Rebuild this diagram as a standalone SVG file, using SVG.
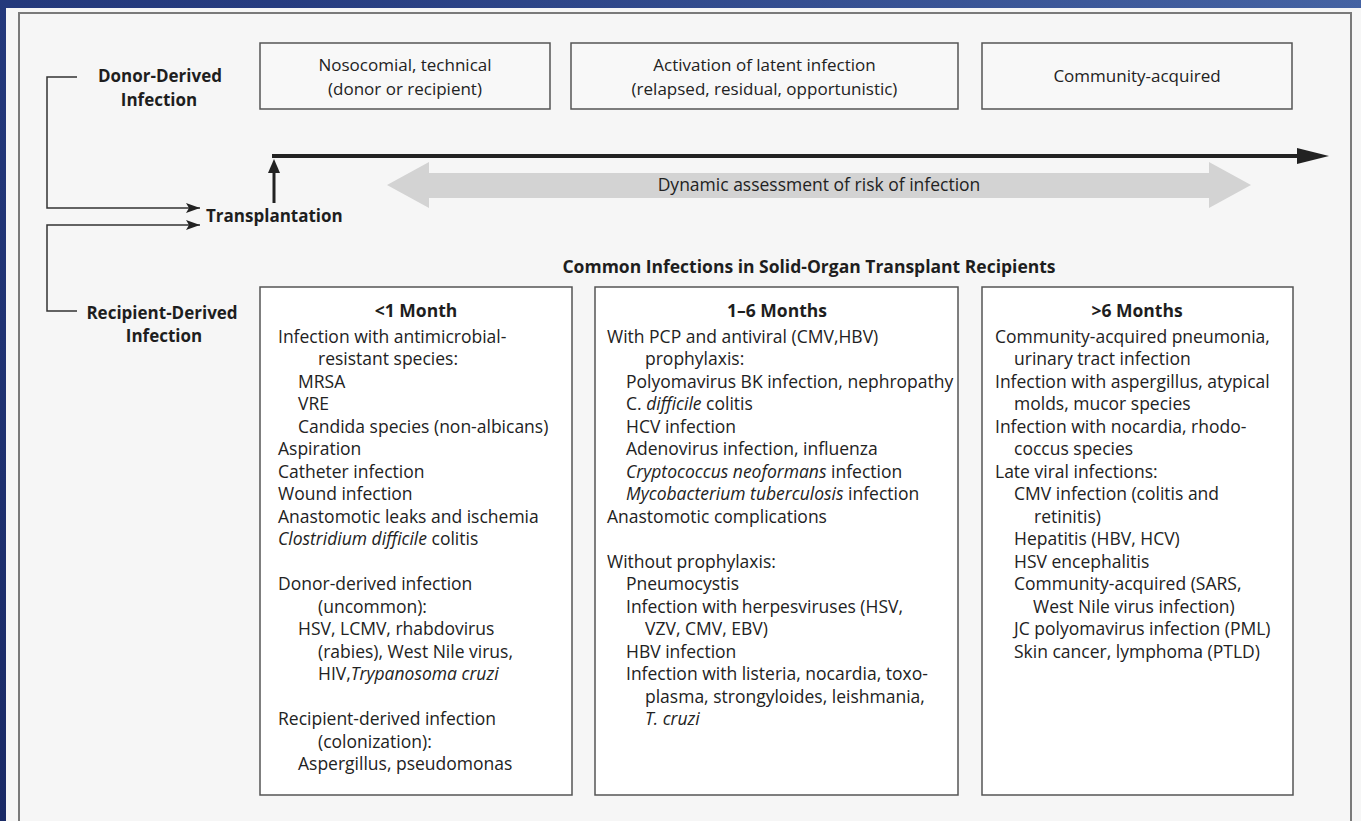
<svg xmlns="http://www.w3.org/2000/svg" width="1361" height="821" viewBox="0 0 1361 821">
<defs>
<linearGradient id="bg" x1="0" y1="1" x2="1" y2="0">
<stop offset="0" stop-color="#1a2a66"/>
<stop offset="0.6" stop-color="#263c80"/>
<stop offset="1" stop-color="#4563a3"/>
</linearGradient>
<marker id="ah" markerUnits="userSpaceOnUse" markerWidth="14" markerHeight="10" refX="14" refY="5" orient="auto">
<path d="M0,0 L14,5 L0,10 L3,5 Z" fill="#222"/>
</marker>
<style>
.t{font-family:"Open Sans","Liberation Sans",sans-serif;font-size:17.5px;fill:#222}
.s{font-size:17px}
.h{font-family:"Open Sans","Liberation Sans",sans-serif;font-size:17px;font-weight:bold;fill:#1e1e1e}
.c{text-anchor:middle}
.i{font-style:italic}
.box{fill:#ffffff;stroke:#555;stroke-width:1.5}
.tbox{fill:#f8f8f8;stroke:#555;stroke-width:1.5}
.ln{fill:none;stroke:#333;stroke-width:1.5}
</style>
</defs>
<rect x="0" y="0" width="1361" height="821" fill="url(#bg)"/>
<rect x="6" y="8" width="1355" height="813" fill="#f6f6f6"/>
<rect x="19" y="13" width="1332" height="830" fill="none" stroke="#7a7a7a" stroke-width="2"/>

<g id="connectors">
<path class="ln" d="M77,77 H47 V208 H200" marker-end="url(#ah)"/>
<path class="ln" d="M77,311 H47 V225 H200" marker-end="url(#ah)"/>
<path d="M274,203 V170" stroke="#222" stroke-width="3" fill="none"/>
<polygon points="268,173 274,159 280,173" fill="#222"/>
<path d="M272,156 H1300" stroke="#222" stroke-width="4" fill="none"/>
<polygon points="1297,148 1329,156 1297,164" fill="#222"/>
</g>

<g id="risk-arrow">
<polygon points="387,185 429,162 429,173 1209,173 1209,162 1251,185 1209,208 1209,198 429,198 429,208" fill="#d3d3d3"/>
<text class="t c" x="819" y="191">Dynamic assessment of risk of infection</text>
</g>

<g id="donor-derived">
<text class="h c" x="160" y="82">Donor-Derived</text>
<text class="h c" x="159" y="106">Infection</text>
</g>
<g id="transplantation">
<text class="h" x="206" y="222">Transplantation</text>
</g>
<g id="recipient-derived">
<text class="h c" x="162" y="319">Recipient-Derived</text>
<text class="h c" x="164" y="342">Infection</text>
</g>

<g id="phase-nosocomial">
<rect class="tbox" x="260" y="43" width="290" height="66"/>
<text class="t s c" x="405" y="71">Nosocomial, technical</text>
<text class="t s c" x="405" y="95">(donor or recipient)</text>
</g>
<g id="phase-latent">
<rect class="tbox" x="571" y="43" width="387" height="66"/>
<text class="t s c" x="764.5" y="71">Activation of latent infection</text>
<text class="t s c" x="764.5" y="95">(relapsed, residual, opportunistic)</text>
</g>
<g id="phase-community">
<rect class="tbox" x="982" y="43" width="310" height="66"/>
<text class="t s c" x="1137" y="82">Community-acquired</text>
</g>

<g id="title">
<text class="h c" x="809" y="273" style="font-size:17.5px">Common Infections in Solid-Organ Transplant Recipients</text>
</g>

<g id="box-lt1">
<rect class="box" x="260" y="287" width="312" height="508"/>
<text class="h c" x="416" y="317" style="font-size:17.5px">&lt;1 Month</text>
<text class="t" x="278" y="342.5">Infection with antimicrobial-</text>
<text class="t" x="318" y="365">resistant species:</text>
<text class="t" x="298" y="387.5">MRSA</text>
<text class="t" x="298" y="410">VRE</text>
<text class="t" x="298" y="432.5">Candida species (non-albicans)</text>
<text class="t" x="278" y="455">Aspiration</text>
<text class="t" x="278" y="477.5">Catheter infection</text>
<text class="t" x="278" y="500">Wound infection</text>
<text class="t" x="278" y="522.5">Anastomotic leaks and ischemia</text>
<text class="t" x="278" y="545"><tspan class="i">Clostridium difficile</tspan> colitis</text>
<text class="t" x="278" y="590">Donor-derived infection</text>
<text class="t" x="318" y="612.5">(uncommon):</text>
<text class="t" x="298" y="635">HSV, LCMV, rhabdovirus</text>
<text class="t" x="318" y="657.5">(rabies), West Nile virus,</text>
<text class="t" x="318" y="680">HIV,<tspan class="i">Trypanosoma cruzi</tspan></text>
<text class="t" x="278" y="725">Recipient-derived infection</text>
<text class="t" x="318" y="747.5">(colonization):</text>
<text class="t" x="298" y="770">Aspergillus, pseudomonas</text>
</g>

<g id="box-1to6">
<rect class="box" x="595" y="287" width="363" height="508"/>
<text class="h c" x="777" y="317" style="font-size:17.5px">1–6 Months</text>
<text class="t" x="607" y="342.5">With PCP and antiviral (CMV,HBV)</text>
<text class="t" x="645" y="365">prophylaxis:</text>
<text class="t" x="626" y="387.5">Polyomavirus BK infection, nephropathy</text>
<text class="t" x="626" y="410">C. <tspan class="i">difficile</tspan> colitis</text>
<text class="t" x="626" y="432.5">HCV infection</text>
<text class="t" x="626" y="455">Adenovirus infection, influenza</text>
<text class="t" x="626" y="477.5"><tspan class="i">Cryptococcus neoformans</tspan> infection</text>
<text class="t" x="626" y="500"><tspan class="i">Mycobacterium tuberculosis</tspan> infection</text>
<text class="t" x="607" y="522.5">Anastomotic complications</text>
<text class="t" x="607" y="567.5">Without prophylaxis:</text>
<text class="t" x="626" y="590">Pneumocystis</text>
<text class="t" x="626" y="612.5">Infection with herpesviruses (HSV,</text>
<text class="t" x="645" y="635">VZV, CMV, EBV)</text>
<text class="t" x="626" y="657.5">HBV infection</text>
<text class="t" x="626" y="680">Infection with listeria, nocardia, toxo-</text>
<text class="t" x="645" y="702.5">plasma, strongyloides, leishmania,</text>
<text class="t i" x="645" y="725">T. cruzi</text>
</g>

<g id="box-gt6">
<rect class="box" x="982" y="287" width="311" height="508"/>
<text class="h c" x="1137" y="317" style="font-size:17.5px">&gt;6 Months</text>
<text class="t" x="995" y="342.5">Community-acquired pneumonia,</text>
<text class="t" x="1014" y="365">urinary tract infection</text>
<text class="t" x="995" y="387.5">Infection with aspergillus, atypical</text>
<text class="t" x="1014" y="410">molds, mucor species</text>
<text class="t" x="995" y="432.5">Infection with nocardia, rhodo-</text>
<text class="t" x="1014" y="455">coccus species</text>
<text class="t" x="995" y="477.5">Late viral infections:</text>
<text class="t" x="1014" y="500">CMV infection (colitis and</text>
<text class="t" x="1034" y="522.5">retinitis)</text>
<text class="t" x="1014" y="545">Hepatitis (HBV, HCV)</text>
<text class="t" x="1014" y="567.5">HSV encephalitis</text>
<text class="t" x="1014" y="590">Community-acquired (SARS,</text>
<text class="t" x="1033" y="612.5">West Nile virus infection)</text>
<text class="t" x="1014" y="635">JC polyomavirus infection (PML)</text>
<text class="t" x="1014" y="657.5">Skin cancer, lymphoma (PTLD)</text>
</g>
</svg>
